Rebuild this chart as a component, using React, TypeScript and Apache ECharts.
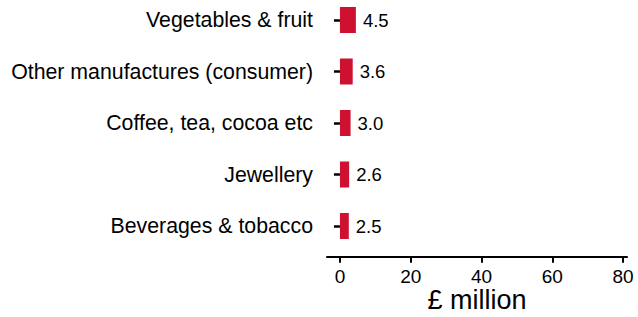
import React, { useEffect, useRef } from "react";
import * as echarts from "echarts";

const categories = [
  "Vegetables & fruit",
  "Other manufactures (consumer)",
  "Coffee, tea, cocoa etc",
  "Jewellery",
  "Beverages & tobacco",
];
const values = [4.5, 3.6, 3.0, 2.6, 2.5];
const xTicks = [0, 20, 40, 60, 80];
const axisTitle = "£ million";

const FONT = "'Liberation Sans', Arial, sans-serif";

export default function App() {
  const ref = useRef<HTMLDivElement>(null);
  useEffect(() => {
    if (!ref.current) return;
    const chart = echarts.init(ref.current, undefined, { renderer: "svg" });
    chart.setOption({
      animation: false,
      textStyle: { fontFamily: FONT },
      grid: { left: 327, right: 11, top: -5.75, height: 257.5, outerBoundsMode: "none", containLabel: false },
      xAxis: {
        type: "value",
        min: -3.66,
        max: 81.1,
        offset: 5,
        splitLine: { show: false },
        axisLine: { show: true, lineStyle: { color: "#000", width: 2 } },
        axisTick: { show: true, customValues: xTicks, length: 6, lineStyle: { color: "#000", width: 2 } },
        axisLabel: { customValues: xTicks, color: "#000", fontSize: 19, fontFamily: FONT, margin: 10 },
        name: axisTitle,
        nameLocation: "middle",
        nameMoveOverlap: false,
        nameGap: 30,
        nameTextStyle: { color: "#000", fontSize: 27, fontFamily: FONT, lineHeight: 27 },
      },
      yAxis: {
        type: "category",
        data: categories,
        inverse: true,
        axisLine: { show: false },
        axisTick: { show: true, alignWithLabel: true, length: 6, lineStyle: { color: "#000", width: 2.5 } },
        axisLabel: { color: "#000", fontSize: 21.3, fontFamily: FONT, margin: 14 },
      },
      series: [
        {
          type: "bar",
          data: values,
          barWidth: 26,
          itemStyle: { color: "#CE1130" },
          label: {
            show: true,
            position: "right",
            distance: 7,
            color: "#000",
            fontSize: 18.5,
            fontFamily: FONT,
            formatter: (p: any) => Number(p.value).toFixed(1),
          },
        },
      ],
    });
    return () => chart.dispose();
  }, []);
  return (
    <div
      ref={ref}
      style={{ position: "fixed", left: 0, top: 0, width: 638, height: 317, background: "#fff" }}
    />
  );
}
